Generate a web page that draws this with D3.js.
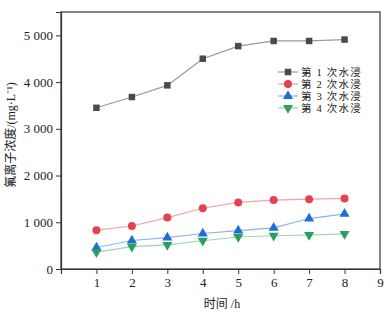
<!DOCTYPE html>
<html>
<head>
<meta charset="utf-8">
<script src="https://cdn.jsdelivr.net/npm/d3@7"></script>
<style>
  html, body { margin: 0; padding: 0; background: #fff; }
  svg { display: block; }
  text { font-family: "Liberation Serif", "Noto Sans CJK SC", serif; fill: #222; }
</style>
</head>
<body>
<div id="chart"></div>
<script>
// hours and four leaching rounds (mg/L)
var hours = [1, 2, 3, 4, 5, 6, 7, 8];
var round1 = [3450, 3680, 3930, 4500, 4770, 4880, 4880, 4910];
var round2 = [830, 920, 1100, 1300, 1425, 1475, 1495, 1510];
var round3 = [460, 610, 670, 760, 820, 880, 1080, 1180];
var round4 = [360, 480, 515, 605, 685, 712, 728, 750];
var seriesNames = ["第 1 次水浸", "第 2 次水浸", "第 3 次水浸", "第 4 次水浸"];
var xTicks = [1, 2, 3, 4, 5, 6, 7, 8, 9];
var yTicks = [0, 1000, 2000, 3000, 4000, 5000];
var yTickLabels = ["0", "1 000", "2 000", "3 000", "4 000", "5 000"];

var W = 392, H = 314;
var m = { left: 61, top: 12, right: 380, bottom: 269 };

var series = [
  { name: seriesNames[0], values: round1, mark: "#4a4a4a", line: "#9a9a9a", shape: d3.symbolSquare, size: 42, rot: 0 },
  { name: seriesNames[1], values: round2, mark: "#e8414b", line: "#f2a3a8", shape: d3.symbolCircle, size: 50, rot: 0 },
  { name: seriesNames[2], values: round3, mark: "#1f6ed8", line: "#8fb3e6", shape: d3.symbolTriangle, size: 44, rot: 0 },
  { name: seriesNames[3], values: round4, mark: "#27a25c", line: "#9ed2b4", shape: d3.symbolTriangle, size: 44, rot: 180 }
];

var svg = d3.select("#chart").append("svg").attr("width", W).attr("height", H);

var x = d3.scaleLinear().domain([0, 9]).range([m.left, m.right]);
var y = d3.scaleLinear().domain([0, 5500]).range([m.bottom, m.top]);

// frame
svg.append("rect").attr("x", m.left).attr("y", m.top)
  .attr("width", m.right - m.left).attr("height", m.bottom - m.top)
  .attr("fill", "none").attr("stroke", "#333").attr("stroke-width", 1.2);

var xAxis = svg.append("g").attr("transform", "translate(0," + m.bottom + ")")
  .call(d3.axisBottom(x).tickValues(xTicks).tickSize(5).tickPadding(4).tickFormat(d3.format("d")));
xAxis.select(".domain").attr("stroke", "#333").attr("stroke-width", 1.2);
xAxis.selectAll("line").attr("stroke", "#333");
xAxis.selectAll("text").attr("font-size", 13).attr("fill", "#222");

var yAxis = svg.append("g").attr("transform", "translate(" + m.left + ",0)")
  .call(d3.axisLeft(y).tickValues(yTicks).tickSize(5).tickPadding(3)
    .tickFormat(function (d, i) { return yTickLabels[i]; }));
yAxis.select(".domain").attr("stroke", "#333").attr("stroke-width", 1.2);
yAxis.selectAll("line").attr("stroke", "#333");
yAxis.selectAll("text").attr("font-size", 13).attr("fill", "#222");

var line = d3.line().x(function (d, i) { return x(hours[i]); }).y(function (d) { return y(d); });

series.forEach(function (s) {
  svg.append("path").datum(s.values).attr("d", line)
    .attr("fill", "none").attr("stroke", s.line).attr("stroke-width", 1.2);
  var sym = d3.symbol().type(s.shape).size(s.size);
  svg.selectAll(null).data(s.values).enter().append("path")
    .attr("d", sym)
    .attr("transform", function (d, i) {
      return "translate(" + x(hours[i]) + "," + y(d) + ") rotate(" + s.rot + ")";
    })
    .attr("fill", s.mark);
});

// legend
var leg = svg.append("g").attr("transform", "translate(278,72)");
series.forEach(function (s, i) {
  var g = leg.append("g").attr("transform", "translate(0," + i * 12 + ")");
  g.append("line").attr("x1", 0).attr("x2", 20).attr("y1", 0).attr("y2", 0)
    .attr("stroke", s.line).attr("stroke-width", 1.2);
  g.append("path").attr("d", d3.symbol().type(s.shape).size(s.size)())
    .attr("transform", "translate(10,0) rotate(" + s.rot + ")").attr("fill", s.mark);
  g.append("text").attr("x", 23).attr("y", 4).attr("font-size", 10.5)
    .attr("letter-spacing", 1.2).text(s.name);
});

// axis titles
svg.append("text").attr("transform", "translate(15,135) rotate(-90)")
  .attr("text-anchor", "middle").attr("font-size", 12)
  .text("氟离子浓度/(mg·L⁻¹)");
svg.append("text").attr("x", 222).attr("y", 308).attr("text-anchor", "middle")
  .attr("font-size", 12).text("时间 /h");
</script>
</body>
</html>
